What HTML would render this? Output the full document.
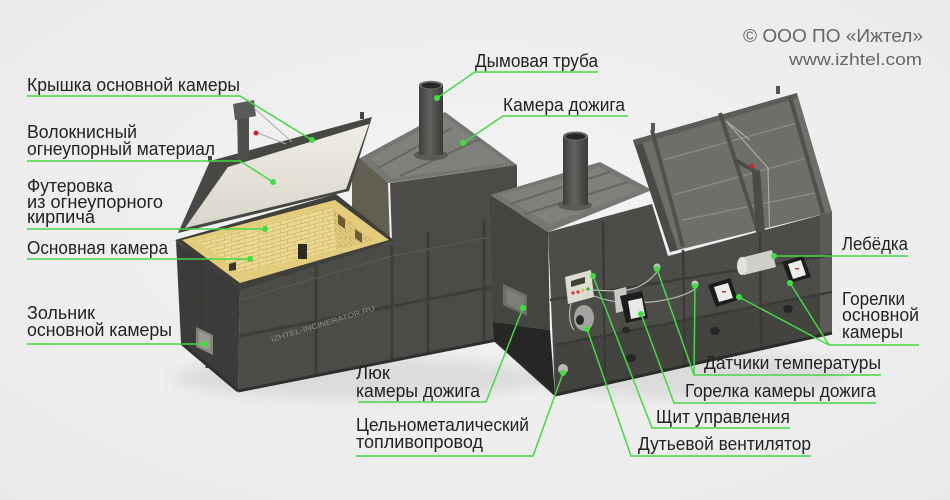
<!DOCTYPE html>
<html><head><meta charset="utf-8"><style>
html,body{margin:0;padding:0;background:#efefef;}
svg{display:block;}
text{font-family:"Liberation Sans","Noto Sans CJK SC",sans-serif;}
</style></head><body>
<svg width="950" height="500" viewBox="0 0 950 500" xmlns="http://www.w3.org/2000/svg">
<defs>
<radialGradient id="bg" cx="0.5" cy="0.45" r="0.75">
<stop offset="0" stop-color="#f4f4f4"/><stop offset="1" stop-color="#e9e9e9"/>
</radialGradient>
<linearGradient id="lidL" x1="0" y1="0" x2="0" y2="1">
<stop offset="0" stop-color="#f0ede5"/><stop offset="1" stop-color="#d9d5ca"/>
</linearGradient>
<linearGradient id="chim" x1="0" y1="0" x2="1" y2="0">
<stop offset="0" stop-color="#3e3f3c"/><stop offset="0.45" stop-color="#62635f"/><stop offset="1" stop-color="#3a3b38"/>
</linearGradient>
<pattern id="brickA" width="14" height="8" patternUnits="userSpaceOnUse" patternTransform="skewY(-15)">
<rect width="14" height="8" fill="#ecd992"/>
<path d="M0,0.3H14M0,4.3H14M0.3,0V4M7.3,4V8" stroke="#c9b05e" stroke-width="0.7" fill="none"/>
</pattern>
<pattern id="brickB" width="10" height="8" patternUnits="userSpaceOnUse" patternTransform="skewY(39)">
<rect width="10" height="8" fill="#e2cb7e"/>
<path d="M0,0.3H10M0,4.3H10M0.3,0V4M5.3,4V8" stroke="#c1a655" stroke-width="0.7" fill="none"/>
</pattern>
<filter id="blur" x="-20%" y="-50%" width="140%" height="200%"><feGaussianBlur stdDeviation="7"/></filter>
</defs>

<rect width="950" height="500" fill="url(#bg)"/>

<!-- floor shadows -->
<ellipse cx="360" cy="378" rx="185" ry="22" fill="#cfcfcf" opacity="0.6" filter="url(#blur)"/>
<ellipse cx="690" cy="375" rx="160" ry="24" fill="#cfcfcf" opacity="0.6" filter="url(#blur)"/>

<!-- ===== LEFT ASSEMBLY ===== -->
<polygon points="360,158 445,112 517,165 388,183" fill="#767773"/>
<polygon points="370,158 445,117 508,163 392,178" fill="#80817d"/>
<path d="M378,168 L452,128 M400,176 L480,139" stroke="#666763" stroke-width="2" fill="none"/>
<polygon points="352,162 360,158 388,183 390,242 352,214" fill="#625f50"/>
<polygon points="240,288 392,242 390,183 517,165 517,336 238,391" fill="#4b4b48"/>
<polygon points="176,241 240,288 238,391 181,343" fill="#3b3b39"/>
<g stroke="#3c3c39" stroke-width="3" fill="none">
<path d="M207,262 L207,368"/>
<path d="M180,290 L239,336"/>
<path d="M240,336 L517,282"/>
<path d="M316,266 L316,375"/>
<path d="M428,232 L428,353"/>
<path d="M484,220 L484,342"/>
<path d="M392,245 L392,360"/>
</g>
<path d="M240,300 L392,256 L517,232" stroke="#575754" stroke-width="1.5" fill="none"/>
<path d="M238,391 L517,336" stroke="#2f2f2d" stroke-width="3" fill="none"/>
<path d="M181,343 L238,391" stroke="#2f2f2d" stroke-width="3" fill="none"/>
<polygon points="196,327 213,335 213,355 196,347" fill="#85857f"/>
<polygon points="199,331 210,336 210,351 199,346" fill="#9a9a94"/>
<text transform="translate(272,342) rotate(-17)" font-size="7.5" fill="#8c8c89" textLength="108" lengthAdjust="spacingAndGlyphs">IZHTEL-INCINERATOR.RU</text>

<!-- rim + bricks -->
<polygon points="175,240 240,290 395,241 336,194" fill="#3f3f3c"/>
<polygon points="182,240 240,283 389,240 335,200" fill="#e3cd7c"/>
<polygon points="198,241 240,273 374,240 332,207" fill="url(#brickA)"/>
<polygon points="332,207 374,240 337,249" fill="url(#brickB)"/>
<rect x="298" y="244" width="9" height="15" fill="#2d2a22"/>
<polygon points="338,214 345,219 345,229 338,224" fill="#6b5e34"/>
<polygon points="355,229 362,234 362,243 355,238" fill="#6b5e34"/>
<polygon points="229,264 236,262 236,270 229,271" fill="#3a3428"/>

<!-- left lid -->
<polygon points="178,233 210,161 372,117 349,191" fill="#474744"/>
<polygon points="185,228 228,167 369,124 346,189" fill="url(#lidL)"/>
<!-- crane left -->
<polygon points="237,112 249,109 249,160 238,162" fill="#4f4f4c"/>
<polygon points="233,104 254,100 256,116 235,120" fill="#5a5a57"/>
<path d="M254,108 L292,142 M258,133 L286,144" stroke="#a9a9a5" stroke-width="1" fill="none"/>
<circle cx="256" cy="133" r="2.5" fill="#d02525"/>
<rect x="208" y="156" width="4" height="6" fill="#444"/>
<rect x="360" y="112" width="4" height="7" fill="#444"/>

<!-- chimney 1 -->
<ellipse cx="431" cy="155" rx="17" ry="5.5" fill="#5a5b57"/>
<rect x="419" y="85" width="24" height="70" fill="url(#chim)"/>
<ellipse cx="431" cy="85" rx="12" ry="4.2" fill="#6d6e6a"/>
<ellipse cx="431" cy="85.5" rx="9.5" ry="3" fill="#262624"/>

<!-- ===== CENTER + RIGHT ASSEMBLY ===== -->
<polygon points="490,195 600,162 652,190 548,232" fill="#767773"/>
<polygon points="500,195 600,167 640,190 550,224" fill="#80817d"/>
<path d="M510,204 L610,172 M525,214 L628,182" stroke="#666763" stroke-width="2" fill="none"/>
<polygon points="490,195 548,232 550,330 493,322" fill="#444441"/>
<polygon points="493,322 550,330 555,395 494,340" fill="#262624"/>
<!-- right lid -->
<polygon points="633,140 797,93 832,212 670,252" fill="#6f6f6a"/>
<polygon points="633,140 641,138 678,250 670,252" fill="#4a4a47"/>
<polygon points="633,140 797,93 798,98 636,145" fill="#5c5c58"/>
<g stroke="#8c8c87" stroke-width="1.3" fill="none">
<path d="M663,160 L797,123"/>
<path d="M673,195 L807,158"/>
<path d="M683,220 L815,193"/>
</g>
<g stroke="#50504c" stroke-width="4" fill="none">
<path d="M652,130 L683,247"/>
<path d="M720,113 L760,237"/>
<path d="M790,97 L823,213"/>
</g>
<rect x="651" y="123" width="4" height="8" fill="#555"/>
<rect x="776" y="86" width="4" height="8" fill="#555"/>
<!-- right crane -->
<polygon points="752,172 760,170 766,245 757,247" fill="#4b4b48"/>
<path d="M735,160 L758,173" stroke="#4b4b48" stroke-width="4" fill="none"/>
<path d="M726,121 L768,168 L770,248 M726,121 L750,140" stroke="#b5b5b0" stroke-width="1" fill="none"/>
<circle cx="752" cy="166" r="2.3" fill="#d02525"/>
<!-- combined front face -->
<polygon points="548,232 652,204 668,256 832,212 832,333 555,395" fill="#4c4c49"/>
<polygon points="555,345 832,292 832,333 555,395" fill="#434340"/>
<polygon points="820,214 832,212 832,333 820,336" fill="#5a5a56"/>
<g stroke="#3a3a37" stroke-width="2.5" fill="none">
<path d="M550,300 L832,255"/>
<path d="M555,345 L832,292"/>
<path d="M603,222 L605,383"/>
<path d="M683,250 L685,366"/>
<path d="M760,232 L761,350"/>
</g>
<path d="M555,395 L832,333" stroke="#2c2c2a" stroke-width="3" fill="none"/>
<path d="M494,340 L555,395" stroke="#2c2c2a" stroke-width="2" fill="none"/>
<ellipse cx="631" cy="358" rx="5" ry="4" fill="#262624"/>
<ellipse cx="715" cy="331" rx="5" ry="4" fill="#262624"/>
<ellipse cx="788" cy="309" rx="5" ry="4" fill="#262624"/>
<ellipse cx="626" cy="330" rx="4" ry="3.5" fill="#2a2a28"/>

<!-- chimney 2 -->
<ellipse cx="575" cy="205" rx="17" ry="5.5" fill="#5a5b57"/>
<rect x="563" y="136" width="25" height="69" fill="url(#chim)"/>
<ellipse cx="575.5" cy="136" rx="12.5" ry="4.5" fill="#6d6e6a"/>
<ellipse cx="575.5" cy="136.5" rx="10" ry="3.2" fill="#262624"/>

<!-- hatch -->
<polygon points="503,284 527,295 527,316 503,305" fill="#6f6f6b"/>
<polygon points="507,289 524,297 524,312 507,304" fill="#7d7d79"/>
<circle cx="563" cy="369" r="5" fill="#b9b9b5"/>
<!-- control panel -->
<polygon points="565,277 591,270 594,297 568,304" fill="#dedbd0"/>
<polygon points="571,281 585,277 585,283 571,287" fill="#3c4232"/>
<circle cx="573" cy="293" r="1.6" fill="#d33"/>
<circle cx="578" cy="292" r="1.6" fill="#d33"/>
<circle cx="583" cy="290.5" r="1.6" fill="#e0c030"/>
<circle cx="588" cy="289" r="1.6" fill="#3a3"/>
<!-- blower -->
<ellipse cx="584" cy="318" rx="10" ry="13" fill="#a3a39f"/>
<ellipse cx="580" cy="320" rx="4" ry="5" fill="#2a2a2a"/>
<path d="M592,290 C625,292 640,292 657,272 M594,296 C630,310 680,300 695,289 M571,303 C568,315 570,325 574,330" stroke="#b9b9b5" stroke-width="1.2" fill="none"/>
<circle cx="657" cy="267" r="3.5" fill="#c4c4c0"/>
<circle cx="695" cy="284" r="3.5" fill="#c4c4c0"/>
<!-- afterburner burner -->
<polygon points="614,290 626,287 628,310 616,313" fill="#c9c9c5"/>
<polygon points="620,296 642,291 648,318 626,323" fill="#1c1c1c"/>
<polygon points="628,301 642,298 645,316 631,319" fill="#e9e9e5"/>
<!-- main burners -->
<polygon points="708,285 730,278 738,300 716,307" fill="#1c1c1c"/>
<polygon points="714,287 728,283 733,298 719,302" fill="#ececea"/>
<rect x="722" y="291" width="4" height="1.5" fill="#c33"/>
<polygon points="782,262 803,256 811,277 790,283" fill="#1c1c1c"/>
<polygon points="788,264 801,260 806,275 793,279" fill="#ececea"/>
<rect x="795" y="268" width="4" height="1.5" fill="#c33"/>
<!-- winch -->
<polygon points="740,258 772,250 776,267 744,275" fill="#cfcfcb"/>
<ellipse cx="742" cy="266" rx="5" ry="9" fill="#e2e2de"/>

<!-- ===== CONNECTORS ===== -->
<g stroke="#45d845" stroke-width="1.5" fill="none">
<path d="M27,96 H240 L312,140"/>
<path d="M27,161 H240 L273,182"/>
<path d="M27,229 H265"/>
<path d="M27,259 H250"/>
<path d="M27,344 H205"/>
<path d="M598,72 H475 L437,98"/>
<path d="M628,116 H503 L463,143"/>
<path d="M908,256 H774"/>
<path d="M919,345 H829 L739,297 M829,345 L790,283"/>
<path d="M881,375 H694 L657,269 M694,375 L695,286"/>
<path d="M876,403 H674 L641,314"/>
<path d="M790,428 H652 L593,276"/>
<path d="M811,456 H631 L587,329"/>
<path d="M358,402 H486 L523,308"/>
<path d="M356,456 H533 L563,373"/>
</g>
<g fill="#3ee03e">
<circle cx="312" cy="140" r="3"/><circle cx="273" cy="182" r="3"/>
<circle cx="265" cy="229" r="3"/><circle cx="250" cy="259" r="3"/>
<circle cx="205" cy="344" r="3"/><circle cx="437" cy="98" r="3"/>
<circle cx="463" cy="143" r="3"/><circle cx="774" cy="256" r="3"/>
<circle cx="739" cy="297" r="3"/><circle cx="790" cy="283" r="3"/>
<circle cx="657" cy="269" r="3"/><circle cx="695" cy="286" r="3"/>
<circle cx="641" cy="314" r="3"/><circle cx="593" cy="276" r="3"/>
<circle cx="587" cy="329" r="3"/><circle cx="523" cy="308" r="3"/>
<circle cx="563" cy="373" r="3"/>
</g>

<!-- ===== LABELS ===== -->
<g font-size="18" fill="#222">
<text x="27" y="91" textLength="213" lengthAdjust="spacingAndGlyphs">Крышка основной камеры</text>
<text x="27" y="138" textLength="110" lengthAdjust="spacingAndGlyphs">Волокнисный</text>
<text x="27" y="155" textLength="188" lengthAdjust="spacingAndGlyphs">огнеупорный материал</text>
<text x="27" y="192" textLength="86" lengthAdjust="spacingAndGlyphs">Футеровка</text>
<text x="27" y="208" textLength="136" lengthAdjust="spacingAndGlyphs">из огнеупорного</text>
<text x="27" y="223" textLength="68" lengthAdjust="spacingAndGlyphs">кирпича</text>
<text x="27" y="254" textLength="141" lengthAdjust="spacingAndGlyphs">Основная камера</text>
<text x="27" y="319" textLength="68" lengthAdjust="spacingAndGlyphs">Зольник</text>
<text x="27" y="336" textLength="145" lengthAdjust="spacingAndGlyphs">основной камеры</text>
<text x="475" y="67" textLength="123" lengthAdjust="spacingAndGlyphs">Дымовая труба</text>
<text x="503" y="111" textLength="122" lengthAdjust="spacingAndGlyphs">Камера дожига</text>
<text x="842" y="250" textLength="66" lengthAdjust="spacingAndGlyphs">Лебёдка</text>
<text x="842" y="305" textLength="63" lengthAdjust="spacingAndGlyphs">Горелки</text>
<text x="842" y="321" textLength="77" lengthAdjust="spacingAndGlyphs">основной</text>
<text x="842" y="338" textLength="61" lengthAdjust="spacingAndGlyphs">камеры</text>
<text x="704" y="369" textLength="177" lengthAdjust="spacingAndGlyphs">Датчики температуры</text>
<text x="685" y="397" textLength="191" lengthAdjust="spacingAndGlyphs">Горелка камеры дожига</text>
<text x="656" y="423" textLength="134" lengthAdjust="spacingAndGlyphs">Щит управления</text>
<text x="638" y="450" textLength="173" lengthAdjust="spacingAndGlyphs">Дутьевой вентилятор</text>
<text x="356" y="379" textLength="34" lengthAdjust="spacingAndGlyphs">Люк</text>
<text x="356" y="397" textLength="124" lengthAdjust="spacingAndGlyphs">камеры дожига</text>
<text x="356" y="431" textLength="173" lengthAdjust="spacingAndGlyphs">Цельнометалический</text>
<text x="356" y="448" textLength="127" lengthAdjust="spacingAndGlyphs">топливопровод</text>
</g>
<text x="743" y="42" font-size="18" fill="#666" textLength="180" lengthAdjust="spacingAndGlyphs">© ООО ПО «Ижтел»</text>
<text x="789" y="65" font-size="17" fill="#666" textLength="133" lengthAdjust="spacingAndGlyphs">www.izhtel.com</text>
</svg>
</body></html>
